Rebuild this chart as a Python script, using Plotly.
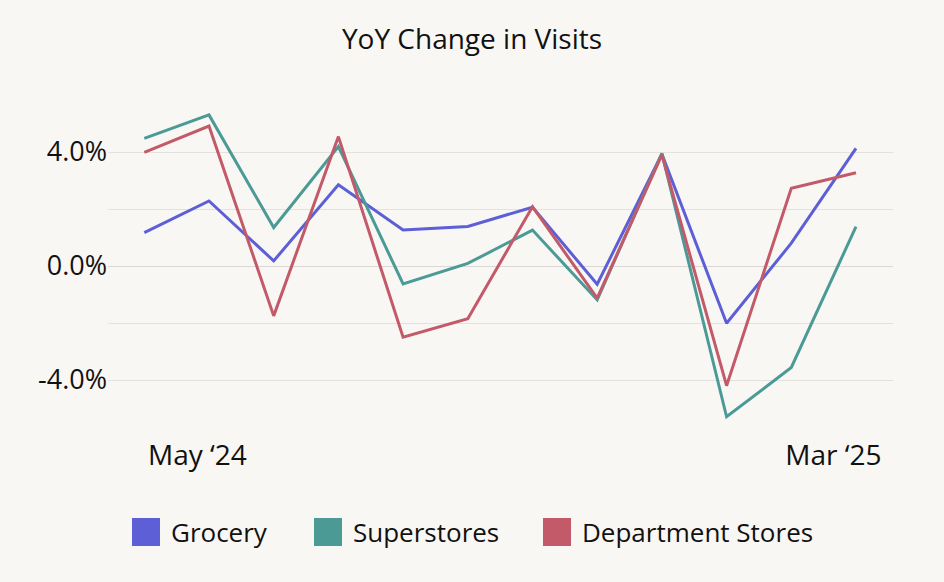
import plotly.graph_objects as go

# ---- data ----
month_index = list(range(12))
grocery = [1.17, 2.28, 0.18, 2.85, 1.26, 1.39, 2.06, -0.64, 3.93, -2.01, 0.80, 4.13]
superstores = [4.48, 5.30, 1.35, 4.19, -0.63, 0.09, 1.26, -1.19, 3.95, -5.29, -3.56, 1.38]
department = [3.99, 4.91, -1.75, 4.54, -2.50, -1.85, 2.08, -1.13, 3.90, -4.20, 2.73, 3.27]

series_names = ["Grocery", "Superstores", "Department Stores"]
series_values = [grocery, superstores, department]
series_colors = ["#5D5FD7", "#4B9A96", "#C25A69"]

x_tickvals = [0.82, 10.65]
x_ticktext = ["May \u201824", "Mar \u201825"]
y_tickvals = [-4, -2, 0, 2, 4]
y_ticktext = ["-4.0%", "", "0.0%", "", "4.0%"]

FONT = "Open Sans"
BG = "#F9F7F4"
W, H = 944, 582
ML, MR, MT, MB = 108, 51, 95, 152

fig = go.Figure()
for name, vals, col in zip(series_names, series_values, series_colors):
    fig.add_trace(go.Scatter(
        x=month_index, y=vals, mode="lines", name=name,
        line=dict(color=col, width=3), showlegend=False,
    ))

# custom legend (large square swatches)
pw = W - ML - MR
ph = H - MT - MB
def px_to_paper_x(px):
    return (px - ML) / pw
def px_to_paper_y(py):
    return (H - MB - py) / ph

legend_swatch_left = [132, 314, 543]
legend_y_center = 532
sw = 28
for name, col, left in zip(series_names, series_colors, legend_swatch_left):
    fig.add_shape(type="rect", xref="paper", yref="paper",
                  x0=px_to_paper_x(left), x1=px_to_paper_x(left + sw),
                  y0=px_to_paper_y(legend_y_center + sw / 2), y1=px_to_paper_y(legend_y_center - sw / 2),
                  fillcolor=col, line=dict(width=0))
    fig.add_annotation(xref="paper", yref="paper",
                       x=px_to_paper_x(left + sw + 9), y=px_to_paper_y(legend_y_center),
                       xanchor="left", yanchor="middle", showarrow=False,
                       text=name, font=dict(family=FONT, size=26, color="#111111"))

fig.update_layout(
    width=W, height=H,
    margin=dict(l=ML, r=MR, t=MT, b=MB),
    paper_bgcolor=BG, plot_bgcolor=BG,
    font=dict(family=FONT, size=26, color="#111111"),
    title=dict(text="YoY Change in Visits", x=0.5, xanchor="center", y=1 - 39 / H,
               yanchor="middle", font=dict(family=FONT, size=28, color="#111111")),
    showlegend=False,
)
fig.update_xaxes(range=[-0.561, 11.572], tickvals=x_tickvals, ticktext=x_ticktext,
                 showgrid=False, zeroline=False, showline=False, ticks="",
                 ticklabelstandoff=6,
                 tickfont=dict(family=FONT, size=28, color="#111111"))
fig.update_yaxes(range=[-5.754, 6.0], tickvals=y_tickvals, ticktext=y_ticktext,
                 showgrid=True, gridcolor="#E3E2DF", gridwidth=1,
                 zeroline=True, zerolinecolor="#D9D8D5", zerolinewidth=1,
                 showline=False, ticks="",
                 tickfont=dict(family=FONT, size=27, color="#111111"))

fig.write_html("out.html")
